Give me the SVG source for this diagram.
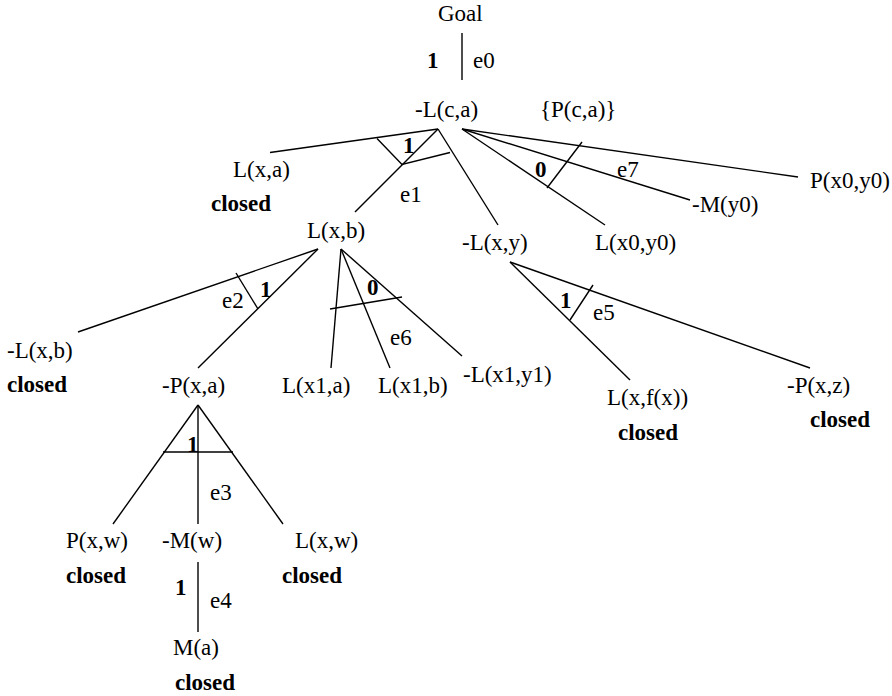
<svg xmlns="http://www.w3.org/2000/svg" width="892" height="696" viewBox="0 0 892 696" font-family="'Liberation Serif', 'Times New Roman', 'DejaVu Serif', serif">
<style>
text{font-family:'Liberation Serif','Times New Roman','DejaVu Serif',serif;font-size:23px;fill:#000}
.b{font-weight:bold}
line,polyline{stroke:#000;stroke-width:1.4;fill:none}
</style>
<rect width="892" height="696" fill="#fff"/>
<g id="connectors">
<line x1="462" y1="33" x2="462" y2="80"/>
<line x1="438" y1="129" x2="270" y2="152.5"/>
<line x1="438" y1="129" x2="355" y2="212"/>
<line x1="438" y1="129" x2="498" y2="225"/>
<polyline points="377,138.5 402,164.5 450,152.5"/>
<line x1="462" y1="129" x2="605" y2="225"/>
<line x1="462" y1="129" x2="690" y2="200"/>
<line x1="462" y1="129" x2="798" y2="177"/>
<line x1="582" y1="142" x2="547" y2="188"/>
<line x1="318" y1="249" x2="78" y2="332"/>
<line x1="318" y1="249" x2="198" y2="368"/>
<line x1="236" y1="273" x2="258" y2="309"/>
<line x1="341" y1="249" x2="331" y2="368"/>
<line x1="341" y1="249" x2="390" y2="368"/>
<line x1="341" y1="249" x2="462" y2="356"/>
<line x1="330" y1="309" x2="402" y2="297"/>
<line x1="510" y1="262" x2="630" y2="380"/>
<line x1="510" y1="262" x2="810" y2="368"/>
<line x1="593" y1="285" x2="570" y2="320"/>
<line x1="198" y1="405" x2="113" y2="524"/>
<line x1="198" y1="405" x2="198" y2="524"/>
<line x1="198" y1="405" x2="283" y2="524"/>
<line x1="163" y1="452" x2="233" y2="452"/>
<line x1="198" y1="562" x2="198" y2="632"/>
</g>
<g id="edge-labels">
<text class="b" x="427" y="68">1</text><text x="473" y="68">e0</text>
<text class="b" x="403" y="153">1</text><text x="400" y="202">e1</text>
<text class="b" x="535" y="177">0</text><text x="617" y="177">e7</text>
<text class="b" x="260" y="297">1</text><text x="222" y="308">e2</text>
<text class="b" x="367" y="295">0</text><text x="390" y="345">e6</text>
<text class="b" x="560" y="308">1</text><text x="593" y="320">e5</text>
<text class="b" x="187" y="452">1</text><text x="210" y="500">e3</text>
<text class="b" x="175" y="595">1</text><text x="210" y="608">e4</text>
</g>
<g id="n-goal"><text x="438" y="21">Goal</text></g>
<g id="n-Lca"><text x="415" y="117">-L(c,a)</text><text x="540" y="117">{P(c,a)}</text></g>
<g id="n-Lxa"><text x="233" y="177">L(x,a)</text><text class="b" x="211" y="211">closed</text></g>
<g id="n-Lxb"><text x="307" y="238">L(x,b)</text></g>
<g id="n-Lxy"><text x="462" y="250">-L(x,y)</text></g>
<g id="n-Lx0y0"><text x="595" y="250">L(x0,y0)</text></g>
<g id="n-My0"><text x="692" y="212">-M(y0)</text></g>
<g id="n-Px0y0"><text x="810" y="188">P(x0,y0)</text></g>
<g id="n-nLxb"><text x="7" y="358">-L(x,b)</text><text class="b" x="7" y="392">closed</text></g>
<g id="n-Pxa"><text x="162" y="393">-P(x,a)</text></g>
<g id="n-Lx1a"><text x="282" y="393">L(x1,a)</text></g>
<g id="n-Lx1b"><text x="378" y="393">L(x1,b)</text></g>
<g id="n-Lx1y1"><text x="463" y="382">-L(x1,y1)</text></g>
<g id="n-Lxfx"><text x="607" y="405">L(x,f(x))</text><text class="b" x="618" y="440">closed</text></g>
<g id="n-Pxz"><text x="787" y="393">-P(x,z)</text><text class="b" x="810" y="427">closed</text></g>
<g id="n-Pxw"><text x="66" y="548">P(x,w)</text><text class="b" x="66" y="583">closed</text></g>
<g id="n-Mw"><text x="162" y="548">-M(w)</text></g>
<g id="n-Lxw"><text x="295" y="548">L(x,w)</text><text class="b" x="282" y="583">closed</text></g>
<g id="n-Ma"><text x="173" y="655">M(a)</text><text class="b" x="175" y="690">closed</text></g>
</svg>
